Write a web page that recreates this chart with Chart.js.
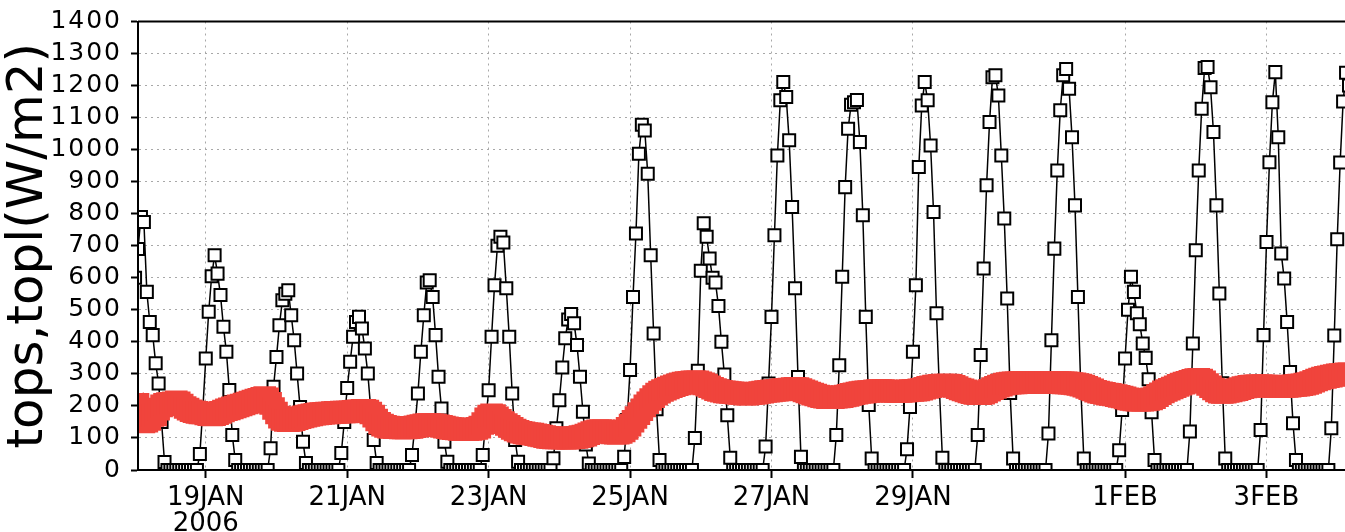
<!DOCTYPE html>
<html>
<head>
<meta charset="utf-8">
<title>tops, topl</title>
<script src="https://cdn.jsdelivr.net/npm/chart.js@4.4.1/dist/chart.umd.min.js"></script>
<style>
  html, body { margin: 0; padding: 0; background: #fff; overflow: hidden; }
  #wrap { position: relative; width: 1365px; height: 532px; }
</style>
</head>
<body>
<div id="wrap"><canvas id="c" width="1365" height="532"></canvas></div>
<script>
// Hourly series, first value at 18 JAN 2006 00 UTC (x = hours since then).
const firstHour = 0;

// tops (W/m2), one row per UTC day, hours 00..23
const tops = [
  600, 690, 790, 774, 556, 462, 421, 333, 270, 150, 25, 0, 0, 0, 0, 0, 0, 0, 0, 0, 0, 0, 50, 190,       // 18 JAN
  348, 494, 605, 670, 613, 546, 447, 369, 250, 109, 31, 0, 0, 0, 0, 0, 0, 0, 0, 0, 0, 0, 68, 260,       // 19 JAN
  353, 452, 530, 550, 561, 483, 405, 301, 197, 88, 22, 0, 0, 0, 0, 0, 0, 0, 0, 0, 0, 0, 53, 150,        // 20 JAN
  256, 338, 416, 462, 478, 442, 379, 301, 190, 94, 22, 0, 0, 0, 0, 0, 0, 0, 0, 0, 0, 0, 47, 140,        // 21 JAN
  239, 369, 483, 585, 592, 540, 421, 291, 192, 88, 26, 0, 0, 0, 0, 0, 0, 0, 0, 0, 0, 0, 47, 150,        // 22 JAN
  249, 416, 577, 700, 728, 710, 567, 416, 239, 94, 26, 0, 0, 0, 0, 0, 0, 0, 0, 0, 0, 0, 37, 130,        // 23 JAN
  218, 320, 411, 470, 487, 458, 390, 291, 182, 80, 20, 0, 0, 0, 0, 0, 0, 0, 0, 0, 0, 0, 41, 156,        // 24 JAN
  312, 540, 738, 987, 1078, 1060, 925, 670, 426, 190, 31, 0, 0, 0, 0, 0, 0, 0, 0, 0, 0, 0, 100, 310,   // 25 JAN
  622, 770, 728, 660, 600, 585, 512, 400, 298, 171, 38, 0, 0, 0, 0, 0, 0, 0, 0, 0, 0, 0, 73, 270,       // 26 JAN
  478, 733, 982, 1154, 1211, 1164, 1029, 821, 567, 290, 41, 0, 0, 0, 0, 0, 0, 0, 0, 0, 0, 0, 109, 327, // 27 JAN
  603, 883, 1065, 1140, 1148, 1155, 1024, 795, 478, 203, 36, 0, 0, 0, 0, 0, 0, 0, 0, 0, 0, 0, 65, 197, // 28 JAN
  369, 577, 946, 1138, 1211, 1154, 1013, 805, 489, 250, 38, 0, 0, 0, 0, 0, 0, 0, 0, 0, 0, 0, 109, 359, // 29 JAN
  629, 889, 1086, 1226, 1232, 1169, 982, 785, 535, 240, 36, 0, 0, 0, 0, 0, 0, 0, 0, 0, 0, 0, 114, 405, // 30 JAN
  691, 935, 1123, 1232, 1252, 1190, 1039, 826, 540, 250, 36, 0, 0, 0, 0, 0, 0, 0, 0, 0, 0, 0, 62, 187, // 31 JAN
  348, 500, 603, 556, 489, 455, 395, 350, 283, 180, 31, 0, 0, 0, 0, 0, 0, 0, 0, 0, 0, 0, 120, 395,     // 1 FEB
  686, 935, 1128, 1255, 1258, 1195, 1055, 826, 551, 271, 36, 0, 0, 0, 0, 0, 0, 0, 0, 0, 0, 0, 125, 421, // 2 FEB
  712, 961, 1148, 1242, 1039, 676, 598, 462, 306, 146, 31, 0, 0, 0, 0, 0, 0, 0, 0, 0, 0, 0, 130, 420,  // 3 FEB
  720, 960, 1150, 1240, 1200, 1050                                                                      // 4 FEB
];

// topl (W/m2), same hourly grid
const topl = [
  200, 205, 160, 150, 152, 158, 170, 172, 190, 200, 205, 207, 208, 210, 213, 210, 203, 195, 190, 185, 182, 180, 178, 178, // 18 JAN
  175, 173, 172, 173, 176, 180, 184, 188, 191, 194, 197, 200, 203, 206, 209, 212, 215, 218, 221, 224, 226, 222, 208, 192, // 19 JAN
  178, 165, 158, 155, 154, 155, 157, 160, 163, 166, 168, 170, 172, 174, 175, 176, 177, 178, 178, 179, 180, 180, 181, 181, // 20 JAN
  181, 182, 183, 184, 185, 186, 186, 184, 178, 168, 156, 146, 140, 136, 134, 133, 132, 132, 131, 131, 131, 132, 133, 135, // 21 JAN
  137, 139, 141, 142, 142, 141, 140, 138, 136, 134, 132, 130, 129, 128, 127, 126, 126, 126, 127, 128, 130, 134, 145, 160, // 22 JAN
  168, 172, 170, 163, 155, 148, 142, 136, 130, 125, 121, 118, 116, 114, 113, 112, 110, 108, 106, 104, 102, 101, 100, 100, // 23 JAN
  100, 100, 99, 99, 100, 101, 102, 104, 106, 109, 113, 117, 120, 122, 123, 122, 120, 118, 116, 115, 115, 117, 122, 130,   // 24 JAN
  140, 152, 164, 176, 188, 200, 210, 220, 229, 237, 243, 248, 252, 256, 260, 263, 266, 269, 271, 273, 274, 275, 275, 275, // 25 JAN
  272, 269, 265, 260, 255, 251, 248, 246, 244, 243, 242, 241, 240, 239, 238, 237, 237, 238, 239, 240, 242, 243, 245, 246, // 26 JAN
  247, 248, 249, 250, 251, 252, 253, 254, 255, 254, 251, 247, 244, 240, 237, 234, 231, 229, 227, 226, 226, 226, 227, 228, // 27 JAN
  229, 231, 233, 236, 238, 240, 242, 243, 244, 245, 246, 247, 248, 248, 248, 247, 246, 246, 245, 245, 245, 246, 247, 248, // 28 JAN
  248, 249, 250, 252, 255, 258, 260, 262, 263, 264, 265, 265, 265, 264, 261, 257, 253, 250, 247, 244, 241, 239, 238, 238, // 29 JAN
  240, 244, 249, 254, 258, 262, 265, 268, 270, 271, 272, 272, 273, 273, 273, 273, 274, 274, 274, 274, 274, 274, 274, 274, // 30 JAN
  274, 273, 273, 272, 272, 271, 270, 269, 267, 265, 262, 258, 254, 250, 246, 243, 241, 239, 237, 236, 234, 232, 230, 228, // 31 JAN
  225, 222, 220, 219, 218, 218, 218, 219, 220, 222, 226, 232, 238, 244, 248, 252, 256, 260, 264, 268, 271, 274, 277, 280, // 1 FEB
  282, 283, 281, 275, 267, 260, 253, 247, 243, 242, 243, 245, 247, 249, 251, 254, 257, 259, 261, 262, 263, 263, 263, 263, // 2 FEB
  262, 262, 261, 260, 260, 260, 261, 261, 262, 263, 264, 265, 266, 268, 270, 273, 277, 281, 284, 287, 289, 291, 293, 295, // 3 FEB
  297, 298, 299, 300, 300, 300                                                                                             // 4 FEB
];

// labelled date ticks (hours since 18 JAN 00 UTC) and their labels
const tickHours  = [24, 72, 120, 168, 216, 264, 336, 384];
const tickLabels = [['19JAN', '2006'], '21JAN', '23JAN', '25JAN', '27JAN', '29JAN', '1FEB', '3FEB'];

const axisMin = 1, axisMax = 412;
const yMin = 0, yMax = 1400, yStep = 100;

const RED = '#f0443c';
const GRID = '#a8a8a8';
const FONT = "'DejaVu Sans', 'Liberation Sans', sans-serif";

const toPoints = arr => arr.map((v, i) => ({ x: firstHour + i, y: v }));

// thin frame line along the top of the plot
const topFrame = {
  id: 'topFrame',
  afterDatasetsDraw(chart) {
    const { ctx, chartArea: a } = chart;
    ctx.save();
    ctx.strokeStyle = '#000';
    ctx.lineWidth = 2;
    ctx.beginPath();
    ctx.moveTo(a.left, a.top);
    ctx.lineTo(a.right, a.top);
    ctx.stroke();
    ctx.restore();
  }
};

// the value labels on the left axis are set a little wider apart
const wideYLabels = {
  id: 'wideYLabels',
  afterLayout(chart) {
    const s = chart.scales.y;
    if (!s || s._wideLabels) return;
    const orig = s.drawLabels;
    s.drawLabels = function (area) {
      const c = this.ctx;
      c.save();
      if ('letterSpacing' in c) c.letterSpacing = '2px';
      orig.call(this, area);
      c.restore();
    };
    s._wideLabels = true;
  }
};

new Chart(document.getElementById('c'), {
  type: 'line',
  data: {
    datasets: [
      {
        label: 'topl',
        data: toPoints(topl),
        order: 0,
        borderColor: RED,
        backgroundColor: RED,
        borderWidth: 16,
        pointStyle: 'rect',
        pointRadius: 16,
        pointBorderWidth: 0,
        pointBackgroundColor: RED,
        pointHoverRadius: 16,
        clip: 0
      },
      {
        label: 'tops',
        data: toPoints(tops),
        order: 1,
        borderColor: '#000',
        backgroundColor: '#fff',
        borderWidth: 1.5,
        pointStyle: 'rect',
        pointRadius: 8.5,
        pointBorderWidth: 2,
        pointBorderColor: '#000',
        pointBackgroundColor: '#fff',
        pointHoverRadius: 8.5,
        clip: 0
      }
    ]
  },
  options: {
    responsive: false,
    animation: false,
    events: [],
    layout: { padding: { top: 21, right: 0, bottom: 0, left: 0 } },
    plugins: {
      legend: { display: false },
      tooltip: { enabled: false }
    },
    scales: {
      x: {
        type: 'linear',
        min: axisMin,
        max: axisMax,
        afterBuildTicks: scale => { scale.ticks = tickHours.map(v => ({ value: v })); },
        afterFit: scale => { scale.height = 62; },
        grid: {
          color: GRID,
          lineWidth: 1,
          drawTicks: true,
          tickLength: 8,
          tickColor: '#000',
          tickWidth: 2,
          tickBorderDash: []
        },
        border: { display: true, color: '#000', width: 2, dash: [2, 4], z: 1 },
        ticks: {
          autoSkip: false,
          maxRotation: 0,
          minRotation: 0,
          padding: 7,
          color: '#000',
          font: { family: FONT, size: 26, lineHeight: 1.0 },
          callback: value => {
            const i = tickHours.indexOf(value);
            return i >= 0 ? tickLabels[i] : '';
          }
        }
      },
      y: {
        min: yMin,
        max: yMax,
        afterFit: scale => { scale.width = 138; },
        grid: {
          color: GRID,
          lineWidth: 1,
          drawTicks: true,
          tickLength: 7,
          tickColor: '#000',
          tickWidth: 2,
          tickBorderDash: []
        },
        border: { display: true, color: '#000', width: 2, dash: [2, 4], z: 1 },
        ticks: {
          stepSize: yStep,
          autoSkip: false,
          padding: 9,
          color: '#000',
          font: { family: FONT, size: 25, lineHeight: 1.0 },
          callback: value => String(value)
        },
        title: {
          display: true,
          text: 'tops,topl(W/m2)',
          color: '#000',
          font: { family: FONT, size: 50, lineHeight: 1.15 },
          padding: { top: 0, bottom: 0 }
        }
      }
    }
  },
  plugins: [topFrame, wideYLabels]
});
</script>
</body>
</html>
